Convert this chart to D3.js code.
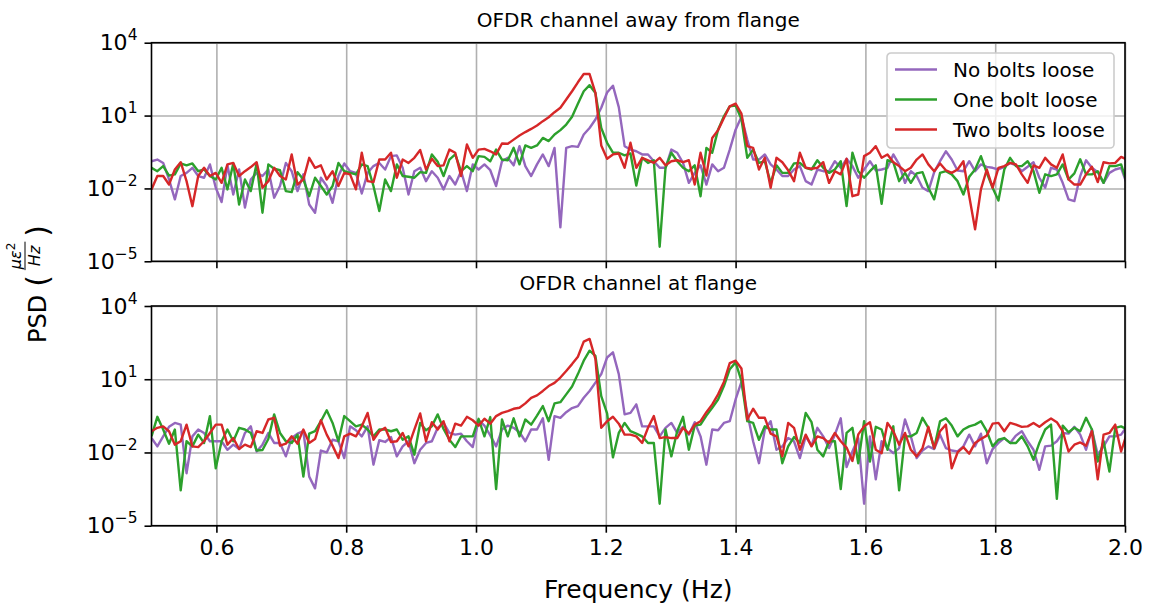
<!DOCTYPE html>
<html>
<head>
<meta charset="utf-8">
<script src="https://cdn.jsdelivr.net/npm/d3@7"></script>
<style>
  body { margin: 0; background: #fff; }
  svg { display: block; }
  text { font-family: "DejaVu Sans", sans-serif; fill: #000; }
</style>
</head>
<body>
<svg id="chart" width="1150" height="605"></svg>
<script>
// Frequency grid of the spectra (Hz)
const freqStart = 0.5;
const freqStep = 0.009;

const seriesNames = ["No bolts loose", "One bolt loose", "Two bolts loose"];
const seriesColors = ["#9467bd", "#2ca02c", "#d62728"];
const panelTitles = ["OFDR channel away from flange", "OFDR channel at flange"];
const xTickValues = [0.6, 0.8, 1.0, 1.2, 1.4, 1.6, 1.8, 2.0];
const yTickValues = [1e-5, 1e-2, 1e1, 1e4];

// PSD values stored as log10(PSD), one value per frequency bin
const awayNone = [
  -0.88, -0.81, -0.95, -1.63, -2.45, -1.49, -1.36, -1.15, -1.49, -1.56, -1.01, -1.97, -2.56, -1.05, -2.25, -1.22,
  -2.79, -1.63, -1.36, -1.49, -1.22, -2.38, -1.90, -0.95, -1.29, -2.11, -1.42, -2.66, -3.0, -1.56, -1.90, -2.59,
  -1.49, -0.97, -1.29, -1.36, -2.21, -1.36, -1.08, -0.95, -1.22, -0.67, -0.64, -1.15, -2.25, -1.29, -1.15, -1.70,
  -1.29, -1.56, -2.04, -1.49, -1.84, -1.29, -2.11, -1.01, -1.22,
  -1.01, -1.25, -1.90, -0.88, -0.74, -1.05, -0.26, -1.08, -1.49, -1.01, -0.60, -1.08, -0.33, -3.6, -0.33, -0.26,
  -0.29, 0.22, 0.49, 0.84, 1.32, 1.95, 2.23, 1.35, -0.26, -0.40, -0.47, -0.60, -0.60, -0.88, -1.15, -1.15,
  -0.40, -0.53, -0.95, -1.77, -1.36, -1.05, -1.84, -1.01, -1.29, -1.15, -0.40, 0.42, 0.95, 0.01, -0.81, -0.81,
  -0.60, -1.01, -1.22, -1.49, -1.49, -1.22, -1.08, -1.70,
  -1.84, -1.22, -1.29, -1.29, -0.88, -1.15, -0.78, -1.08, -1.56, -1.22, -0.88, -1.26, -1.22, -1.15, -0.60, -1.01,
  -1.77, -1.29, -1.49, -1.97, -2.11, -1.33, -0.88, -0.47, -0.81, -1.26, -1.29, -0.88, -1.29, -1.01, -1.11, -1.15,
  -1.22, -1.11, -0.95, -1.05, -1.29, -1.11, -0.92, -1.56, -1.97, -1.15, -1.22, -1.77, -2.45, -2.52, -1.49, -0.84,
  -1.15, -1.33, -1.77, -1.36, -1.22, -1.15, -1.84
];
const awayOne = [
  -1.15, -1.29, -1.08, -1.47, -1.42, -0.97, -1.05, -0.97, -1.29, -1.22, -1.49, -1.63, -1.15, -2.04, -0.97, -2.66,
  -1.63, -2.11, -0.97, -3.0, -1.01, -1.19, -1.25, -2.11, -2.15, -1.33, -1.63, -2.32, -1.56, -1.90, -2.25, -1.90,
  -0.95, -1.29, -1.36, -1.42, -1.01, -1.08, -1.90, -2.93, -1.63, -2.11, -1.01, -1.49, -1.52, -1.56, -1.33, -1.36,
  -0.60, -0.90, -1.49, -0.81, -0.60, -1.29, -1.08, -1.29, -0.67,
  -0.70, -0.88, -0.40, -0.81, -0.84, -0.33, -1.01, -0.23, -0.33, -0.23, 0.08, -0.05, 0.22, 0.40, 0.63, 0.95,
  1.49, 2.0, 2.25, 1.93, 0.49, -0.12, -0.53, -0.53, -0.64, -0.56, -1.88, -0.74, -0.95, -0.84, -4.4, -1.15,
  -0.53, -0.88, -1.15, -1.29, -1.05, -2.32, -0.33, -0.53, 0.42, 0.97, 1.38, 1.41, 0.86, -0.74, -0.40, -0.95,
  -0.88, -1.77, -1.05, -1.36, -1.36, -0.97, -0.95, -1.15,
  -1.22, -0.84, -1.15, -1.36, -1.22, -0.88, -2.73, -0.53, -1.29, -1.56, -1.29, -1.05, -2.63, -0.84, -0.92, -1.70,
  -1.36, -1.77, -1.38, -1.33, -1.97, -2.45, -1.36, -1.29, -1.42, -1.70, -2.25, -1.52, -1.22, -0.67, -1.36, -1.97,
  -2.5, -1.22, -0.74, -1.08, -1.08, -0.88, -1.29, -2.18, -1.42, -1.49, -1.42, -1.01, -1.63, -1.38, -0.8, -1.42,
  -1.42, -1.29, -1.77, -1.08, -1.08, -1.01, -1.77
];
const awayTwo = [
  -2.04, -1.49, -1.49, -1.84, -1.22, -0.92, -1.70, -2.73, -1.49, -1.15, -1.49, -1.36, -1.77, -1.01, -0.95, -1.49,
  -1.29, -1.12, -0.92, -1.97, -1.70, -1.15, -1.49, -1.63, -0.60, -1.84, -1.63, -0.74, -1.15, -1.05, -1.63, -1.29,
  -1.90, -1.36, -1.42, -2.04, -0.53, -1.70, -1.74, -0.81, -0.81, -0.53, -1.56, -0.81, -0.95, -0.74, -0.42, -1.22,
  -0.78, -1.08, -1.05, -0.40, -0.53, -1.49, -0.19, -0.74, -0.40,
  -0.37, -0.47, -0.60, -0.15, -0.16, 0.01, 0.18, 0.32, 0.45, 0.59, 0.77, 0.93, 1.14, 1.32, 1.66, 2.0,
  2.37, 2.71, 2.71, 1.93, -0.23, -0.78, -0.60, -0.56, -1.15, -0.12, -1.15, -0.74, -0.84, -0.95, -0.74, -1.05,
  -0.88, -0.84, -0.92, -0.84, -1.84, -0.53, -1.47, 0.08, 0.40, 0.90, 1.38, 1.49, 1.08, -0.26, -0.33, -1.22,
  -0.74, -1.97, -0.74, -0.92, -1.25, -1.70, -0.53, -1.15,
  -1.19, -1.15, -0.92, -1.77, -1.29, -1.42, -0.78, -2.32, -2.25, -0.67, -0.53, -0.26, -0.74, -0.60, -0.92, -1.08,
  -1.29, -1.15, -0.81, -0.60, -1.01, -1.29, -0.97, -1.25, -1.36, -1.22, -0.88, -2.32, -3.68, -2.04, -1.22, -1.97,
  -1.15, -1.08, -0.95, -1.01, -1.42, -1.77, -1.05, -1.15, -0.74, -1.01, -1.15, -0.60, -1.63, -1.84, -1.84, -1.42,
  -1.11, -1.74, -0.92, -0.97, -0.95, -0.70, -0.81
];
const flangeNone = [
  -1.41, -1.75, -1.34, -0.95, -0.79, -0.86, -2.85, -1.34, -1.06, -1.20, -1.54, -1.54, -1.54, -1.89, -1.68, -1.86,
  -1.20, -0.93, -1.96, -1.68, -1.20, -1.61, -1.61, -2.16, -1.41, -1.23, -1.13, -2.99, -3.47, -1.92, -2.00, -1.48,
  -1.54, -2.23, -0.93, -1.09, -1.34, -0.93, -2.50, -1.50, -1.57, -1.37, -2.16, -1.75, -1.54, -2.44, -1.89, -1.61,
  -1.54, -0.99, -0.79, -1.20, -1.27, -1.23, -1.54, -1.78, -0.68,
  -0.90, -1.30, -1.75, -1.06, -0.90, -0.99, -1.17, -1.54, -1.06, -1.06, -0.60, -2.30, -0.51, -0.58, -0.35, -0.18,
  -0.10, 0.24, 0.52, 0.86, 1.21, 1.89, 2.10, 1.21, -0.44, -0.38, -0.03, -0.93, -0.93, -0.93, -1.34, -0.99,
  -0.79, -1.20, -0.95, -1.27, -0.76, -1.34, -2.50, -1.06, -1.09, -0.79, -0.72, 0.17, 0.89, -0.38, -1.54, -2.44,
  -1.06, -0.72, -1.89, -1.75, -1.41, -1.54, -2.23, -1.34,
  -1.72, -0.99, -1.34, -1.82, -1.27, -0.60, -2.60, -1.96, -1.41, -4.10, -1.34, -3.10, -1.54, -1.82, -2.03, -1.82,
  -0.65, -1.34, -2.23, -1.92, -1.75, -1.86, -1.27, -1.82, -1.92, -1.96, -1.75, -1.27, -1.75, -1.23, -2.44, -1.86,
  -1.61, -1.41, -1.61, -1.31, -1.13, -1.54, -1.89, -2.71, -1.75, -1.72, -1.54, -1.20, -1.23, -0.95, -1.27, -1.89,
  -1.06, -2.09, -1.75, -1.34, -1.34, -1.27, -0.93
];
const flangeOne = [
  -1.34, -0.54, -1.06, -1.64, -1.06, -3.55, -1.54, -1.75, -1.27, -1.61, -0.51, -2.65, -1.54, -1.06, -1.54, -0.99,
  -1.06, -1.20, -1.92, -1.90, -1.45, -0.44, -1.20, -1.54, -1.61, -1.27, -2.99, -1.23, -1.13, -0.72, -0.27, -0.79,
  -1.54, -0.51, -0.72, -0.93, -0.86, -1.06, -1.34, -1.06, -1.06, -1.13, -1.06, -1.48, -1.34, -2.09, -0.79, -1.09,
  -0.93, -0.44, -1.04, -1.48, -1.78, -1.34, -1.34, -1.34, -0.62,
  -1.34, -0.55, -3.50, -0.65, -1.34, -0.60, -1.34, -0.65, -0.86, -0.49, -0.10, -0.72, 0.01, 0.06, 0.38, 0.70,
  1.21, 1.76, 2.17, 1.96, 0.31, -0.40, -2.20, -1.20, -0.79, -1.13, -1.23, -1.34, -1.61, -1.61, -4.10, -1.06,
  -2.16, -1.13, -0.54, -1.89, -0.90, -0.86, -0.49, -0.17, 0.17, 0.72, 1.41, 1.69, 0.93, -0.72, -0.79, -1.48,
  -0.93, -1.06, -1.06, -2.44, -1.75, -1.37, -1.61, -0.38,
  -0.76, -1.89, -2.16, -1.54, -1.54, -3.50, -1.20, -0.99, -2.44, -0.72, -2.37, -0.95, -1.06, -1.89, -0.93, -3.55,
  -1.34, -1.34, -1.20, -0.58, -0.99, -1.82, -0.72, -0.60, -0.90, -1.34, -1.06, -0.93, -0.86, -0.72, -1.13, -1.75,
  -1.48, -1.41, -1.61, -1.61, -1.34, -1.75, -2.30, -1.61, -1.06, -0.86, -3.90, -0.90, -1.17, -0.99, -1.13, -0.58,
  -1.06, -2.37, -1.54, -2.78, -0.99, -0.93, -1.06
];
const flangeTwo = [
  -1.13, -0.99, -0.93, -1.13, -1.68, -1.54, -0.86, -1.75, -1.78, -1.54, -1.20, -0.86, -0.86, -1.68, -1.41, -1.86,
  -1.68, -1.78, -1.13, -1.20, -0.65, -0.58, -1.72, -1.64, -1.34, -1.64, -1.06, -1.61, -1.45, -0.68, -1.27, -1.72,
  -2.23, -1.34, -1.23, -1.34, -0.93, -0.38, -1.48, -1.13, -0.99, -1.57, -1.54, -1.20, -1.75, -1.06, -0.40, -1.54,
  -0.76, -1.06, -0.72, -1.54, -0.82, -0.90, -0.54, -0.68, -0.90,
  -0.62, -0.82, -0.51, -0.38, -0.31, -0.21, -0.17, 0.01, 0.24, 0.34, 0.52, 0.72, 0.85, 1.07, 1.34, 1.62,
  1.92, 2.54, 2.65, 1.83, -0.99, -0.72, -0.54, -0.82, -1.27, -1.27, -1.34, -1.61, -0.99, -0.51, -1.41, -1.37,
  -1.41, -1.41, -0.99, -1.23, -0.86, -0.72, -0.35, -0.03, 0.38, 0.89, 1.66, 1.76, 1.44, -0.65, -0.21, -0.58,
  -0.58, -1.23, -1.34, -2.16, -0.79, -0.99, -1.89, -1.27,
  -1.75, -1.34, -1.41, -1.61, -1.20, -1.54, -1.80, -2.35, -1.26, -0.93, -0.76, -1.89, -2.03, -0.79, -1.13, -1.68,
  -1.20, -1.89, -2.16, -1.82, -0.95, -1.82, -1.13, -0.86, -2.65, -2.00, -1.78, -2.05, -1.61, -1.45, -1.31, -0.82,
  -0.79, -1.13, -0.79, -0.86, -0.95, -0.93, -0.79, -0.95, -0.76, -0.61, -0.76, -1.13, -1.96, -1.68, -1.59, -1.72,
  -1.13, -3.10, -1.27, -1.20, -0.86, -1.96, -1.20
];

const panelSeries = [
  [awayNone, awayOne, awayTwo],
  [flangeNone, flangeOne, flangeTwo]
];

// Layout
const W = 1150, H = 605;
const plotLeft = 151.5, plotRight = 1125;
const panels = [
  { top: 42.7, bottom: 261.3 },
  { top: 306, bottom: 525.7 }
];

const svg = d3.select("#chart");
const x = d3.scaleLinear().domain([0.5, 2.0]).range([plotLeft, plotRight]);

function supLabel(sel) {
  sel.each(function (d) {
    const e = Math.round(Math.log10(d));
    const t = d3.select(this).text(null);
    t.append("tspan").text("10");
    t.append("tspan").attr("dy", -10).attr("font-size", 15.5)
      .text(e < 0 ? "\u2212" + (-e) : String(e));
  });
}

panels.forEach((p, pi) => {
  const y = d3.scaleLog().domain([1e-5, 1e4]).range([p.bottom, p.top]);
  const g = svg.append("g");
  const clipId = "clip" + pi;
  svg.append("clipPath").attr("id", clipId).append("rect")
    .attr("x", plotLeft).attr("y", p.top)
    .attr("width", plotRight - plotLeft).attr("height", p.bottom - p.top);

  // grid
  const gx = g.append("g").attr("transform", `translate(0,${p.bottom})`)
    .call(d3.axisBottom(x).tickValues(xTickValues).tickSize(-(p.bottom - p.top)).tickFormat(""));
  const gy = g.append("g").attr("transform", `translate(${plotLeft},0)`)
    .call(d3.axisLeft(y).tickValues(yTickValues).tickSize(-(plotRight - plotLeft)).tickFormat(""));
  [gx, gy].forEach(a => {
    a.select(".domain").remove();
    a.selectAll("line").attr("stroke", "#b0b0b0").attr("stroke-width", 1.6);
  });

  // spectra
  const line = d3.line()
    .x((v, i) => x(freqStart + i * freqStep))
    .y(v => y(Math.pow(10, v)));
  const lines = g.append("g").attr("clip-path", `url(#${clipId})`);
  panelSeries[pi].forEach((vals, si) => {
    lines.append("path").datum(vals)
      .attr("fill", "none")
      .attr("stroke", seriesColors[si])
      .attr("stroke-width", 2.4)
      .attr("stroke-linejoin", "round")
      .attr("d", line);
  });

  // axes
  const ax = g.append("g").attr("transform", `translate(0,${p.bottom})`)
    .call(d3.axisBottom(x).tickValues(xTickValues).tickSize(7).tickSizeOuter(0).tickPadding(7)
      .tickFormat(pi === 1 ? d3.format(".1f") : ""));
  const ay = g.append("g").attr("transform", `translate(${plotLeft},0)`)
    .call(d3.axisLeft(y).tickValues(yTickValues).tickSize(7).tickSizeOuter(0).tickPadding(7));
  [ax, ay].forEach(a => {
    a.select(".domain").remove();
    a.selectAll("line").attr("stroke", "#000").attr("stroke-width", 1.6);
    a.selectAll("text").attr("font-size", 22).attr("font-family", "DejaVu Sans").attr("fill", "#000");
  });
  ay.selectAll(".tick text").call(supLabel);

  // frame
  g.append("rect").attr("x", plotLeft).attr("y", p.top)
    .attr("width", plotRight - plotLeft).attr("height", p.bottom - p.top)
    .attr("fill", "none").attr("stroke", "#000").attr("stroke-width", 1.6);

  // title
  svg.append("text").attr("x", (plotLeft + plotRight) / 2).attr("y", p.top - 16)
    .attr("text-anchor", "middle").attr("font-size", 20).text(panelTitles[pi]);
});

// legend (top panel)
const lg = svg.append("g").attr("transform", "translate(887,53)");
lg.append("rect").attr("width", 227).attr("height", 95).attr("rx", 4)
  .attr("fill", "#fff").attr("fill-opacity", 0.8)
  .attr("stroke", "#cccccc").attr("stroke-width", 1.6);
seriesNames.forEach((name, i) => {
  const yy = 16.5 + i * 30;
  lg.append("line").attr("x1", 8).attr("x2", 50).attr("y1", yy).attr("y2", yy)
    .attr("stroke", seriesColors[i]).attr("stroke-width", 2.4);
  lg.append("text").attr("x", 66).attr("y", yy + 7).attr("font-size", 20).text(name);
});

// x axis label
svg.append("text").attr("x", (plotLeft + plotRight) / 2).attr("y", 598)
  .attr("text-anchor", "middle").attr("font-size", 25).text("Frequency (Hz)");

// y axis label: PSD ( με² / Hz )
const yl = svg.append("g").attr("transform", "translate(46,284) rotate(-90)");
const t1 = yl.append("text").attr("font-size", 24).attr("x", 0).attr("y", 0).text("PSD");
const wPSD = t1.node().getComputedTextLength();
const lp = yl.append("text").attr("font-size", 30).attr("y", 2).attr("x", wPSD + 8).text("(");
const wLp = lp.node().getComputedTextLength();
const fx = wPSD + 8 + wLp + 5;
const num = yl.append("text").attr("font-size", 16).attr("font-style", "italic")
  .attr("x", fx).attr("y", -25);
num.append("tspan").text("\u03bc\u03b5");
num.append("tspan").attr("font-size", 12).attr("font-style", "normal").attr("dy", -6).text("2");
const wNum = num.node().getComputedTextLength();
const den = yl.append("text").attr("font-size", 16).attr("font-style", "italic")
  .attr("y", -6).text("Hz");
const wDen = den.node().getComputedTextLength();
const fw = Math.max(wNum, wDen) + 2;
den.attr("x", fx + (fw - wDen) / 2);
num.attr("x", fx + (fw - wNum) / 2);
yl.append("line").attr("x1", fx).attr("x2", fx + fw).attr("y1", -21).attr("y2", -21)
  .attr("stroke", "#000").attr("stroke-width", 1);
const rp = yl.append("text").attr("font-size", 30).attr("y", 2).attr("x", fx + fw + 5).text(")");
const total = fx + fw + 5 + rp.node().getComputedTextLength();
yl.selectAll("*").attr("transform", `translate(${-total / 2},0)`);
</script>
</body>
</html>
